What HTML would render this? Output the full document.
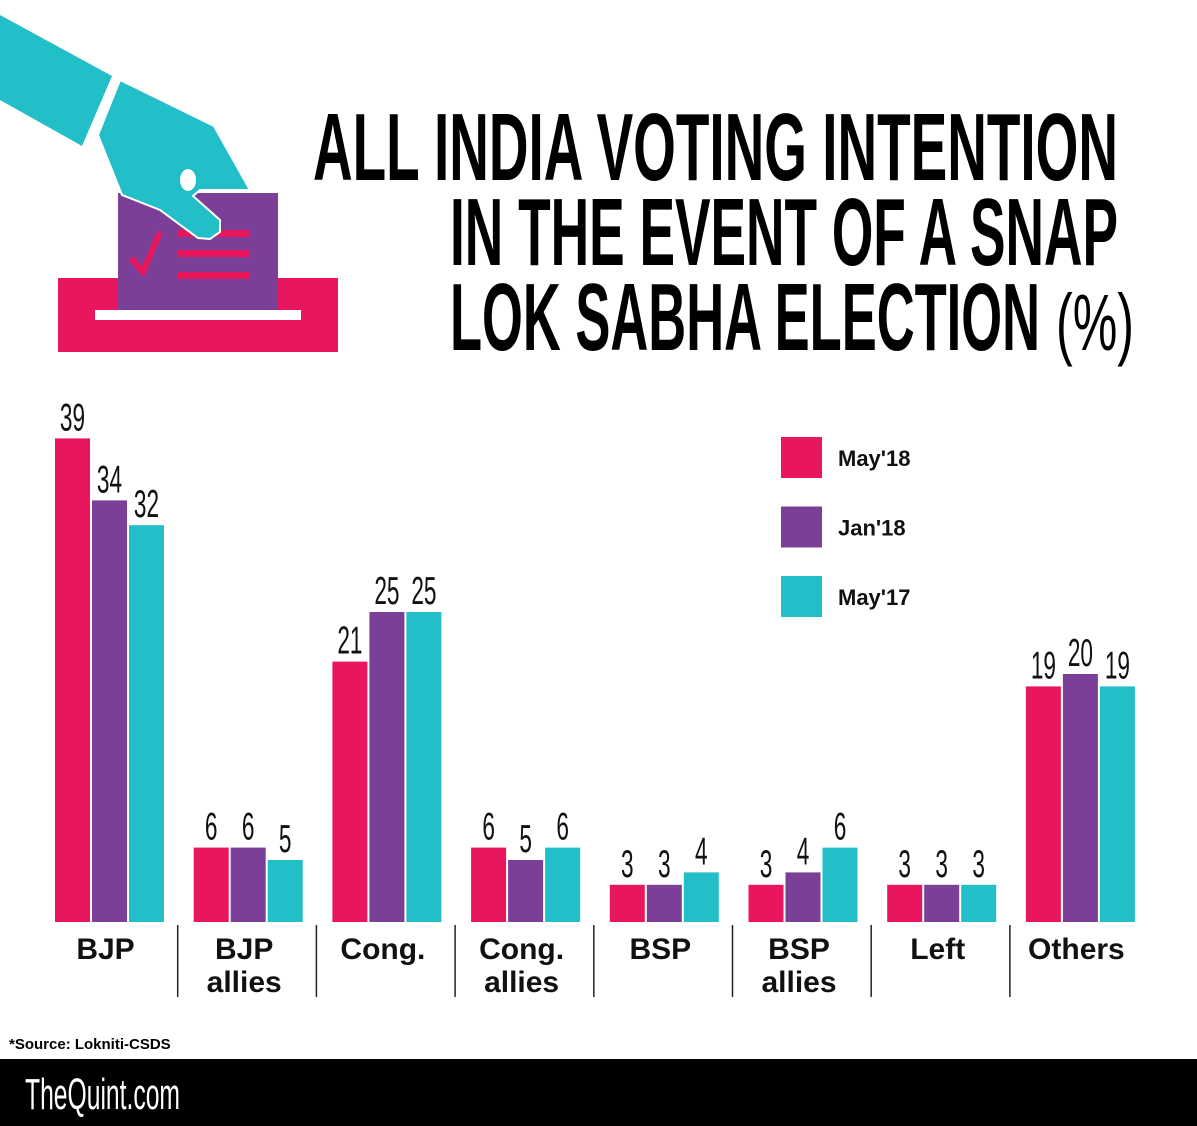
<!DOCTYPE html>
<html><head><meta charset="utf-8"><style>
html,body{margin:0;padding:0;background:#fff;}
svg{display:block;}
.cond{font-family:"Liberation Sans Narrow","Liberation Sans",sans-serif;}
.cat{font-family:"Liberation Sans",sans-serif;font-weight:bold;font-size:30px;fill:#111;}
</style></head><body>
<svg id="chart" width="1197" height="1126" viewBox="0 0 1197 1126" xmlns="http://www.w3.org/2000/svg">
  <g>
    <polygon fill="#22bfc8" points="0,15 112,76 82,146 0,100"/>
    <rect x="58" y="278" width="280" height="74" fill="#e8175d"/>
    <rect x="95" y="310" width="206" height="10" fill="#fff"/>
    <rect x="118" y="193" width="160" height="117" fill="#7b3f98"/>
    <polyline points="131,258 143,272 160,232" fill="none" stroke="#e8175d" stroke-width="6"/>
    <rect x="177" y="230" width="73" height="7" fill="#e8175d"/>
    <rect x="177" y="250" width="73" height="7" fill="#e8175d"/>
    <rect x="177" y="272" width="73" height="7" fill="#e8175d"/>
    <polygon fill="#22bfc8" stroke="#fff" stroke-width="2" points="120,80 214,126 250,190 200,190 193,196 220,220 220,232 210,239 198,238 160,210 122,195 98,135"/>
    <ellipse cx="188" cy="180" rx="8" ry="11" fill="#fff"/>
  </g>
  <g font-weight="bold" font-size="96" fill="#000" class="cond">
    <text x="313" y="180" textLength="805" lengthAdjust="spacingAndGlyphs">ALL INDIA VOTING INTENTION</text>
    <text x="450" y="265" textLength="668" lengthAdjust="spacingAndGlyphs">IN THE EVENT OF A SNAP</text>
    <text x="450" y="350" textLength="590" lengthAdjust="spacingAndGlyphs">LOK SABHA ELECTION</text>
    <text x="1056" y="350" font-weight="normal" font-size="80" textLength="78" lengthAdjust="spacingAndGlyphs">(%)</text>
  </g>
  <g id="bars"></g>
  <g id="legend"></g>
  <text x="9" y="1049" font-family="Liberation Sans,sans-serif" font-weight="bold" font-size="15" fill="#000">*Source: Lokniti-CSDS</text>
  <rect x="0" y="1059" width="1197" height="67" fill="#000"/>
  <text x="25" y="1109" class="cond" font-size="44" fill="#fff" textLength="155" lengthAdjust="spacingAndGlyphs">TheQuint.com</text>
</svg>
<script>
const categories = [["BJP"],["BJP","allies"],["Cong."],["Cong.","allies"],["BSP"],["BSP","allies"],["Left"],["Others"]];
const seriesNames = ["May'18","Jan'18","May'17"];
const may18 = [39,6,21,6,3,3,3,19];
const jan18 = [34,6,25,5,3,4,3,20];
const may17 = [32,5,25,6,4,6,3,19];
const series = [may18, jan18, may17];
const colors = ["#e8175d","#7b3f98","#22bfc8"];
const NS = "http://www.w3.org/2000/svg";
const baseY = 922, pxPer = 12.4, groupX0 = 55, groupStep = 138.7, barW = 35, barGap = 2;
const yScale = v => baseY - v * pxPer;
const xScale = (g, s) => groupX0 + g * groupStep + s * (barW + barGap);
const bars = document.getElementById('bars');
function mk(tag, attrs, parent){const e=document.createElementNS(NS,tag);for(const k in attrs)e.setAttribute(k,attrs[k]);parent.appendChild(e);return e;}
categories.forEach((cat, g) => {
  series.forEach((vals, s) => {
    const v = vals[g];
    const r = mk('rect', {x: xScale(g, s), y: yScale(v), width: barW, height: v * pxPer, fill: colors[s]}, bars);
    
    
    const cx = xScale(g, s) + barW / 2, ty = yScale(v) - 8;
    const t = mk('text', {transform: `translate(${cx},${ty}) scale(0.58,1)`, 'text-anchor': 'middle', 'font-size': 39, fill: '#111', 'class': 'cond'}, bars);
    t.textContent = v;
    
    
  });
  const cx = xScale(g, 1) + barW / 2 - 4;
  cat.forEach((line, i) => {
    const t = mk('text', {x: cx, y: 959 + i * 33, 'text-anchor': 'middle', 'class': 'cat'}, bars);
    t.textContent = line;
    
    
  });
  if (g > 0) {
    const dx = groupX0 + g * groupStep - 16;
    const l = mk('line', {x1: dx, x2: dx, y1: 925, y2: 997, stroke: '#222', 'stroke-width': 1.5}, bars);
    
    
  }
});
const lg = document.getElementById('legend');
seriesNames.forEach((n, i) => {
  const y = 437 + i * 69.5;
  const r = mk('rect', {x: 781, y: y, width: 41, height: 41, fill: colors[i]}, lg);
  
  
  const t = mk('text', {x: 838, y: y + 29, 'font-family': 'Liberation Sans,sans-serif', 'font-weight': 'bold', 'font-size': 22, fill: '#111'}, lg);
  t.textContent = n;
  
  
});
</script>
</body></html>
